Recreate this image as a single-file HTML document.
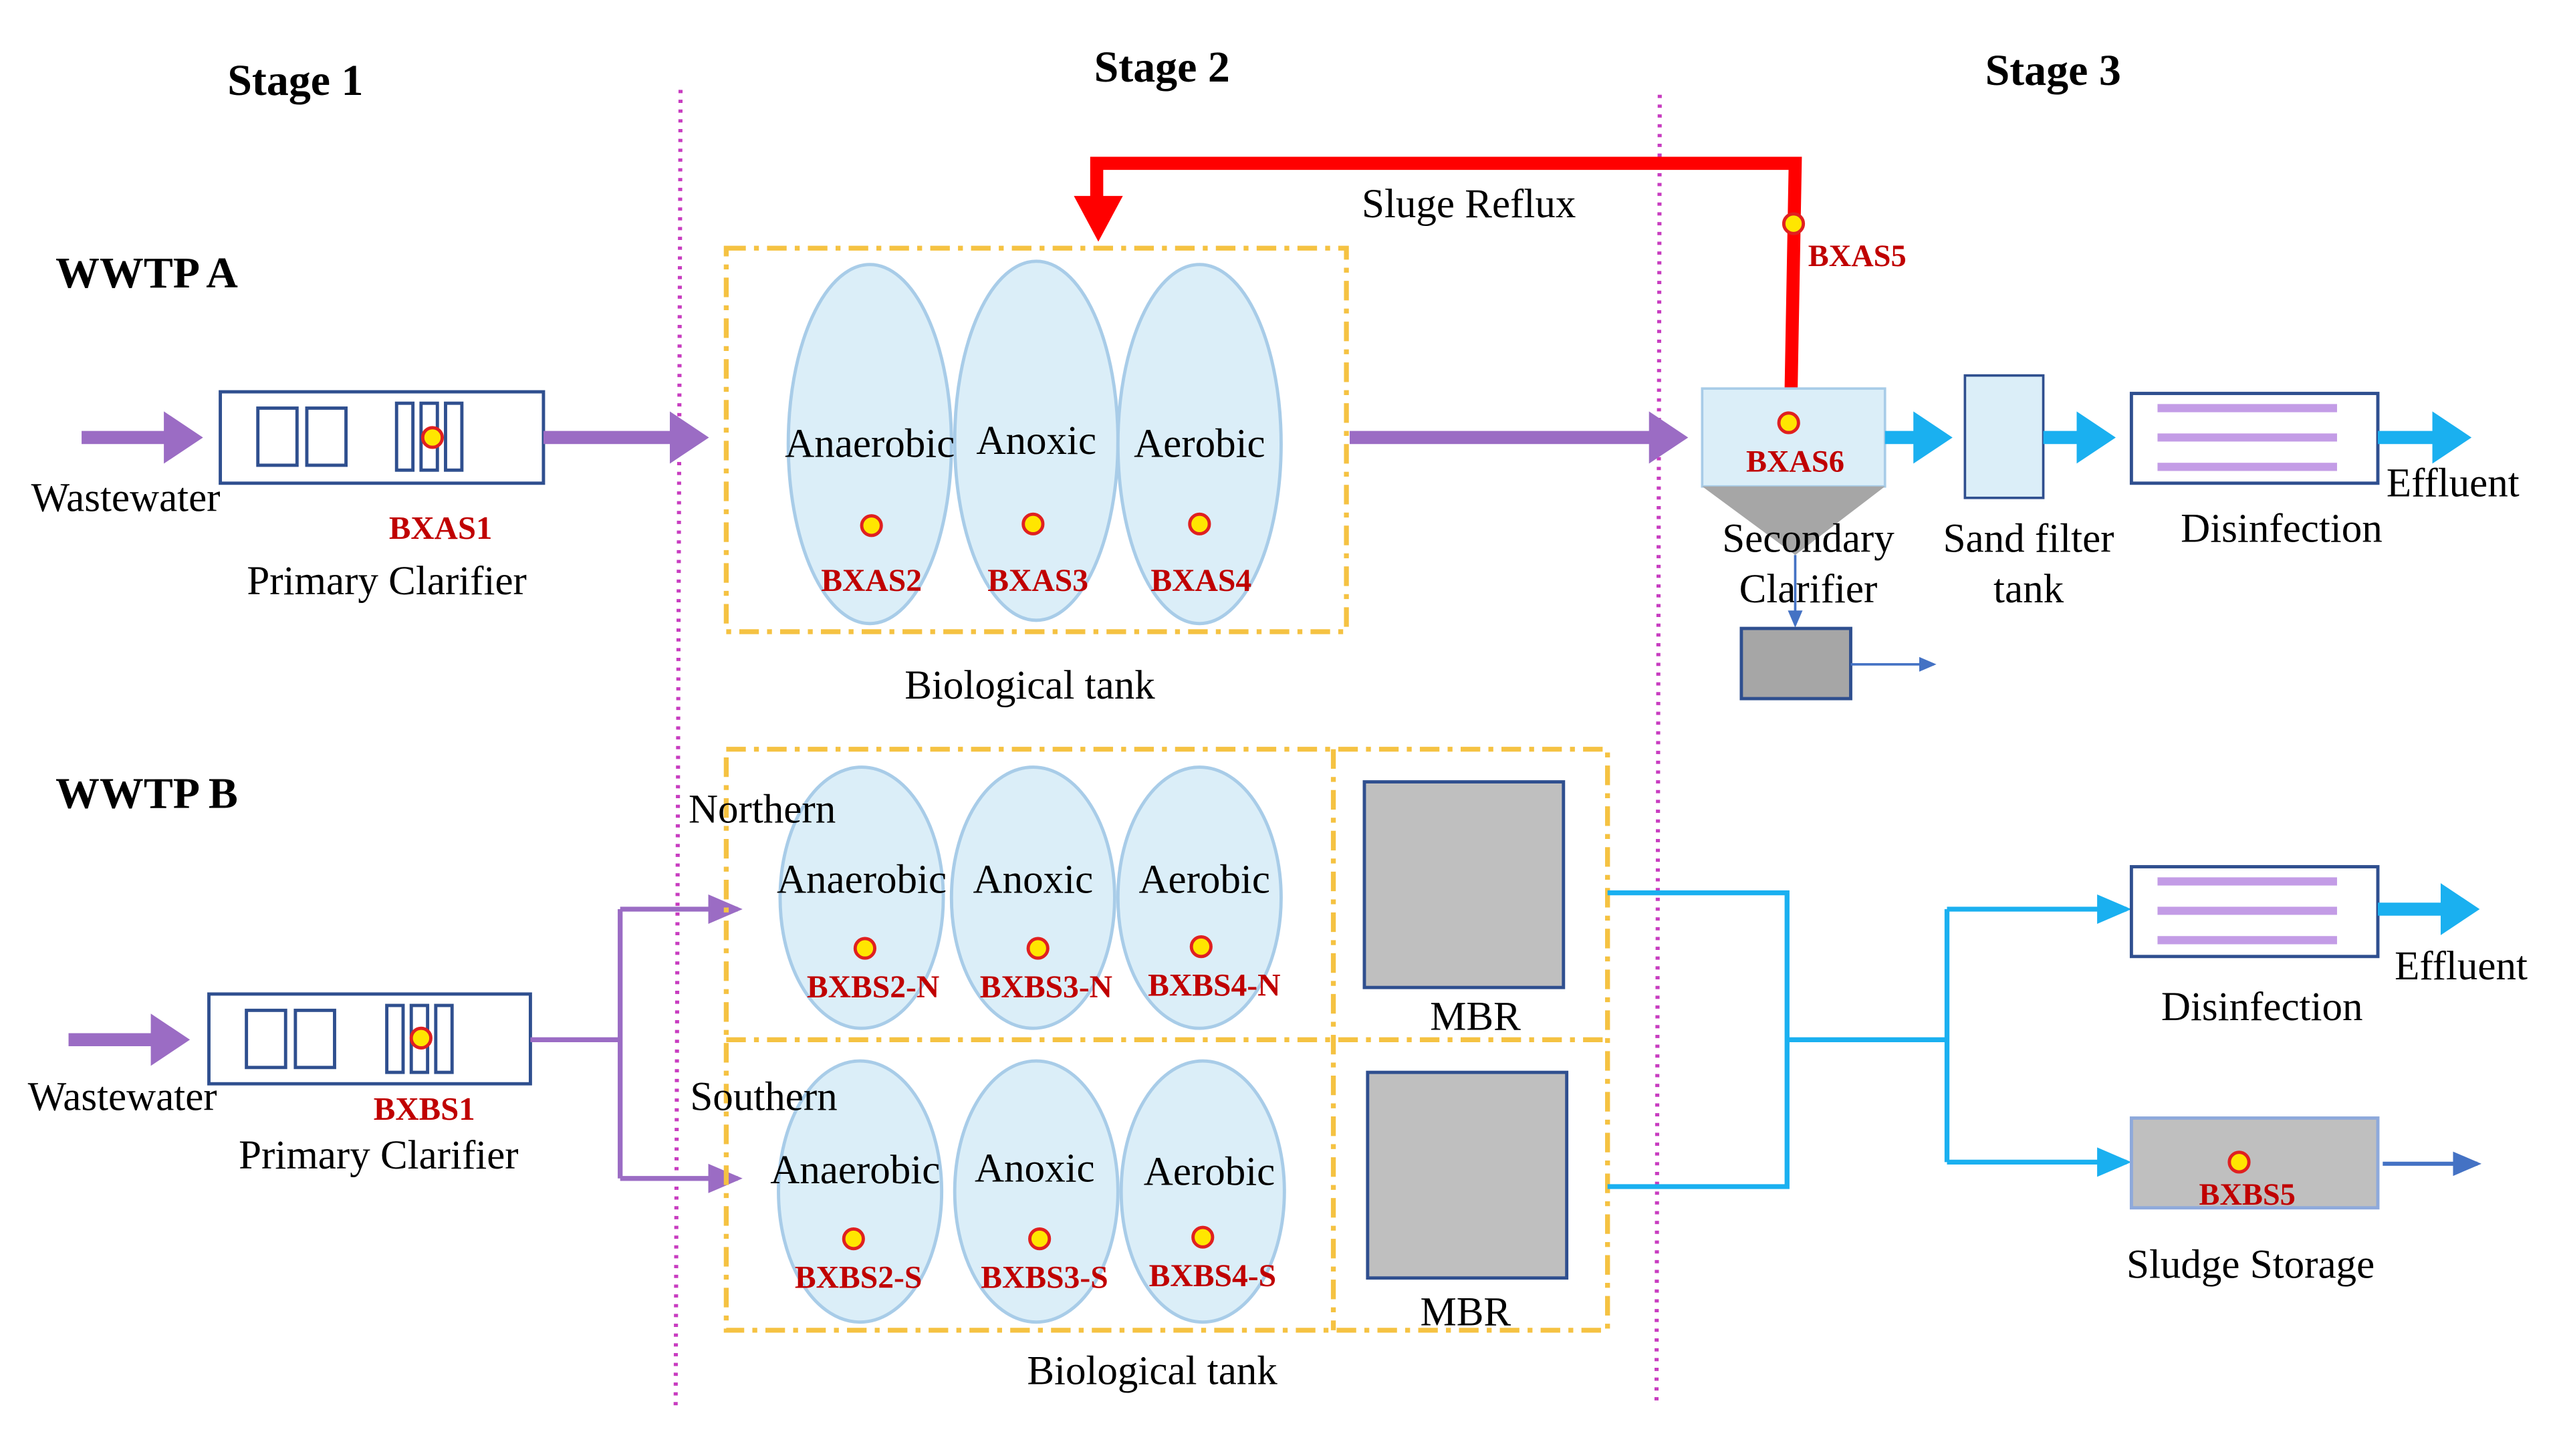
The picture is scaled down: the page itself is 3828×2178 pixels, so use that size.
<!DOCTYPE html>
<html><head><meta charset="utf-8">
<style>html,body{margin:0;padding:0;background:#fff}svg{display:block}</style></head>
<body>
<svg width="3828" height="2178" viewBox="0 0 1568 892" xmlns="http://www.w3.org/2000/svg" font-family="'Liberation Serif', serif">
<defs>
<marker id="pu" markerWidth="4" markerHeight="4" refX="2.2" refY="2" orient="auto" markerUnits="strokeWidth"><path d="M0,0 L3,2 L0,4 z" fill="#9b6cc4"/></marker>
<marker id="pus" markerWidth="8" markerHeight="8" refX="6" refY="4" orient="auto" markerUnits="strokeWidth"><path d="M0,1 L7,4 L0,7 z" fill="#9b6cc4"/></marker>
<marker id="bl" markerWidth="4" markerHeight="4" refX="2.2" refY="2" orient="auto" markerUnits="strokeWidth"><path d="M0,0 L3,2 L0,4 z" fill="#1ab0f0"/></marker>
<marker id="bls" markerWidth="8" markerHeight="8" refX="6" refY="4" orient="auto" markerUnits="strokeWidth"><path d="M0,1 L7,4 L0,7 z" fill="#1ab0f0"/></marker>
<marker id="db" markerWidth="8" markerHeight="8" refX="6" refY="4" orient="auto" markerUnits="strokeWidth"><path d="M0,1 L7,4 L0,7 z" fill="#4472c4"/></marker>
</defs>
<g font-weight="bold" font-size="27" text-anchor="middle">
<text x="181" y="58">Stage 1</text><text x="712" y="50">Stage 2</text><text x="1258" y="52">Stage 3</text>
</g>
<g font-weight="bold" font-size="27"><text x="34" y="176">WWTP A</text><text x="34" y="495">WWTP B</text></g>
<line x1="417" y1="55" x2="414" y2="862" stroke="#c83cc0" stroke-width="2.5" stroke-dasharray="2,4"/>
<line x1="1017" y1="58" x2="1015" y2="862" stroke="#c83cc0" stroke-width="2.5" stroke-dasharray="2,4"/>

<!-- WWTP A -->
<line x1="50" y1="268" x2="118" y2="268" stroke="#9b6cc4" stroke-width="8" marker-end="url(#pu)"/>
<rect x="135" y="240" width="198" height="56" fill="#fff" stroke="#2f4f8f" stroke-width="2"/>
<g fill="none" stroke="#2f4f8f" stroke-width="2"><rect x="158" y="250" width="24" height="35"/><rect x="188" y="250" width="24" height="35"/><rect x="243" y="247" width="10" height="41"/><rect x="258" y="247" width="10" height="41"/><rect x="273" y="247" width="10" height="41"/></g>
<circle cx="265" cy="268" r="6" fill="#ffe600" stroke="#e02020" stroke-width="2"/>
<line x1="333" y1="268" x2="428" y2="268" stroke="#9b6cc4" stroke-width="8" marker-end="url(#pu)"/>
<text x="77" y="313" font-size="25" text-anchor="middle">Wastewater</text>
<text x="270" y="330" font-size="20" font-weight="bold" fill="#c00000" text-anchor="middle">BXAS1</text>
<text x="237" y="364" font-size="25" text-anchor="middle">Primary Clarifier</text>

<rect x="445" y="152" width="380" height="235" fill="none" stroke="#f5c242" stroke-width="3" stroke-dasharray="12,5,3,5"/>
<g fill="#dbeef8" stroke="#a8cce8" stroke-width="2">
<ellipse cx="533" cy="272" rx="50" ry="110"/><ellipse cx="635" cy="270" rx="50" ry="110"/><ellipse cx="735" cy="272" rx="50" ry="110"/></g>
<g font-size="25" text-anchor="middle"><text x="533" y="280">Anaerobic</text><text x="635" y="278">Anoxic</text><text x="735" y="280">Aerobic</text></g>
<g fill="#ffe600" stroke="#e02020" stroke-width="2"><circle cx="534" cy="322" r="6"/><circle cx="633" cy="321" r="6"/><circle cx="735" cy="321" r="6"/></g>
<g font-size="19.5" font-weight="bold" fill="#c00000" text-anchor="middle"><text x="534" y="362">BXAS2</text><text x="636" y="362">BXAS3</text><text x="736" y="362">BXAS4</text></g>
<text x="631" y="428" font-size="25" text-anchor="middle">Biological tank</text>
<line x1="827" y1="268" x2="1028" y2="268" stroke="#9b6cc4" stroke-width="8" marker-end="url(#pu)"/>

<polyline points="1097,265 1100,100 672,100 672,122" fill="none" stroke="#ff0000" stroke-width="8"/>
<path d="M658,120 L688,120 L673,148 z" fill="#ff0000"/>
<circle cx="1099" cy="137" r="6" fill="#ffe600" stroke="#e02020" stroke-width="2"/>
<text x="1138" y="163" font-size="19" font-weight="bold" fill="#c00000" text-anchor="middle">BXAS5</text>
<text x="900" y="133" font-size="25" text-anchor="middle">Sluge Reflux</text>

<rect x="1043" y="238" width="112" height="60" fill="#dbeef8" stroke="#a8cce8" stroke-width="1.5"/>
<path d="M1043,298 L1155,298 L1100,340 z" fill="#a6a6a6"/>
<circle cx="1096" cy="259" r="6" fill="#ffe600" stroke="#e02020" stroke-width="2"/>
<text x="1100" y="289" font-size="19" font-weight="bold" fill="#c00000" text-anchor="middle">BXAS6</text>
<text x="1108" y="338" font-size="25" text-anchor="middle">Secondary</text>
<text x="1108" y="369" font-size="25" text-anchor="middle">Clarifier</text>
<line x1="1100" y1="340" x2="1100" y2="383" stroke="#4472c4" stroke-width="1.5" marker-end="url(#db)"/>
<rect x="1067" y="385" width="67" height="43" fill="#a6a6a6" stroke="#2f4f8f" stroke-width="2"/>
<line x1="1134" y1="407" x2="1185" y2="407" stroke="#4472c4" stroke-width="1.5" marker-end="url(#db)"/>
<line x1="1155" y1="268" x2="1190" y2="268" stroke="#1ab0f0" stroke-width="8" marker-end="url(#bl)"/>
<rect x="1204" y="230" width="48" height="75" fill="#dbeef8" stroke="#2f4f8f" stroke-width="1.5"/>
<line x1="1252" y1="268" x2="1290" y2="268" stroke="#1ab0f0" stroke-width="8" marker-end="url(#bl)"/>
<rect x="1306" y="241" width="151" height="55" fill="#fff" stroke="#2f4f8f" stroke-width="2"/>
<g stroke="#c39ce6" stroke-width="5"><line x1="1322" y1="250" x2="1432" y2="250"/><line x1="1322" y1="268" x2="1432" y2="268"/><line x1="1322" y1="286" x2="1432" y2="286"/></g>
<line x1="1457" y1="268" x2="1508" y2="268" stroke="#1ab0f0" stroke-width="8" marker-end="url(#bl)"/>
<text x="1503" y="304" font-size="25" text-anchor="middle">Effluent</text>
<text x="1243" y="338" font-size="25" text-anchor="middle">Sand filter</text>
<text x="1243" y="369" font-size="25" text-anchor="middle">tank</text>
<text x="1398" y="332" font-size="25" text-anchor="middle">Disinfection</text>

<!-- WWTP B -->
<line x1="42" y1="637" x2="110" y2="637" stroke="#9b6cc4" stroke-width="8" marker-end="url(#pu)"/>
<rect x="128" y="609" width="197" height="55" fill="#fff" stroke="#2f4f8f" stroke-width="2"/>
<g fill="none" stroke="#2f4f8f" stroke-width="2"><rect x="151" y="619" width="24" height="35"/><rect x="181" y="619" width="24" height="35"/><rect x="237" y="616" width="10" height="41"/><rect x="252" y="616" width="10" height="41"/><rect x="267" y="616" width="10" height="41"/></g>
<circle cx="258" cy="636" r="6" fill="#ffe600" stroke="#e02020" stroke-width="2"/>
<text x="75" y="680" font-size="25" text-anchor="middle">Wastewater</text>
<text x="260" y="686" font-size="20" font-weight="bold" fill="#c00000" text-anchor="middle">BXBS1</text>
<text x="232" y="716" font-size="25" text-anchor="middle">Primary Clarifier</text>
<polyline points="325,637 380,637" fill="none" stroke="#9b6cc4" stroke-width="3"/>
<polyline points="380,557 380,722" fill="none" stroke="#9b6cc4" stroke-width="3"/>
<line x1="380" y1="557" x2="452" y2="557" stroke="#9b6cc4" stroke-width="3" marker-end="url(#pus)"/>
<line x1="380" y1="722" x2="452" y2="722" stroke="#9b6cc4" stroke-width="3" marker-end="url(#pus)"/>

<g fill="#dbeef8" stroke="#a8cce8" stroke-width="2">
<ellipse cx="528" cy="550" rx="50" ry="80"/><ellipse cx="633" cy="550" rx="50" ry="80"/><ellipse cx="735" cy="550" rx="50" ry="80"/>
<ellipse cx="527" cy="730" rx="50" ry="80"/><ellipse cx="635" cy="730" rx="50" ry="80"/><ellipse cx="737" cy="730" rx="50" ry="80"/></g>
<g fill="none" stroke="#f5c242" stroke-width="3" stroke-dasharray="12,5,3,5">
<rect x="445" y="459" width="540" height="356"/><line x1="445" y1="637" x2="985" y2="637"/><line x1="817" y1="459" x2="817" y2="815"/></g>
<text x="467" y="504" font-size="25" text-anchor="middle">Northern</text>
<text x="468" y="680" font-size="25" text-anchor="middle">Southern</text>
<g font-size="25" text-anchor="middle">
<text x="528" y="547">Anaerobic</text><text x="633" y="547">Anoxic</text><text x="738" y="547">Aerobic</text>
<text x="524" y="725">Anaerobic</text><text x="634" y="724">Anoxic</text><text x="741" y="726">Aerobic</text></g>
<g fill="#ffe600" stroke="#e02020" stroke-width="2">
<circle cx="530" cy="581" r="6"/><circle cx="636" cy="581" r="6"/><circle cx="736" cy="580" r="6"/>
<circle cx="523" cy="759" r="6"/><circle cx="637" cy="759" r="6"/><circle cx="737" cy="758" r="6"/></g>
<g font-size="19.5" font-weight="bold" fill="#c00000" text-anchor="middle">
<text x="535" y="611">BXBS2-N</text><text x="641" y="611">BXBS3-N</text><text x="744" y="610">BXBS4-N</text>
<text x="526" y="789">BXBS2-S</text><text x="640" y="789">BXBS3-S</text><text x="743" y="788">BXBS4-S</text></g>
<rect x="836" y="479" width="122" height="126" fill="#bfbfbf" stroke="#2f4f8f" stroke-width="2"/>
<rect x="838" y="657" width="122" height="126" fill="#bfbfbf" stroke="#2f4f8f" stroke-width="2"/>
<text x="904" y="631" font-size="25" text-anchor="middle">MBR</text>
<text x="898" y="812" font-size="25" text-anchor="middle">MBR</text>
<text x="706" y="848" font-size="25" text-anchor="middle">Biological tank</text>

<g fill="none" stroke="#1ab0f0" stroke-width="3">
<polyline points="985,547 1095,547 1095,727 985,727"/><line x1="1095" y1="637" x2="1193" y2="637"/><line x1="1193" y1="557" x2="1193" y2="712"/></g>
<line x1="1193" y1="557" x2="1303" y2="557" stroke="#1ab0f0" stroke-width="3" marker-end="url(#bls)"/>
<line x1="1193" y1="712" x2="1303" y2="712" stroke="#1ab0f0" stroke-width="3" marker-end="url(#bls)"/>
<rect x="1306" y="531" width="151" height="55" fill="#fff" stroke="#2f4f8f" stroke-width="2"/>
<g stroke="#c39ce6" stroke-width="5"><line x1="1322" y1="540" x2="1432" y2="540"/><line x1="1322" y1="558" x2="1432" y2="558"/><line x1="1322" y1="576" x2="1432" y2="576"/></g>
<line x1="1457" y1="557" x2="1513" y2="557" stroke="#1ab0f0" stroke-width="8" marker-end="url(#bl)"/>
<text x="1508" y="600" font-size="25" text-anchor="middle">Effluent</text>
<text x="1386" y="625" font-size="25" text-anchor="middle">Disinfection</text>
<rect x="1306" y="685" width="151" height="55" fill="#bfbfbf" stroke="#8ea9db" stroke-width="2"/>
<circle cx="1372" cy="712" r="6" fill="#ffe600" stroke="#e02020" stroke-width="2"/>
<text x="1377" y="738" font-size="19" font-weight="bold" fill="#c00000" text-anchor="middle">BXBS5</text>
<line x1="1460" y1="713" x2="1518" y2="713" stroke="#4472c4" stroke-width="2.5" marker-end="url(#db)"/>
<text x="1379" y="783" font-size="25" text-anchor="middle">Sludge Storage</text>
</svg>
</body></html>
